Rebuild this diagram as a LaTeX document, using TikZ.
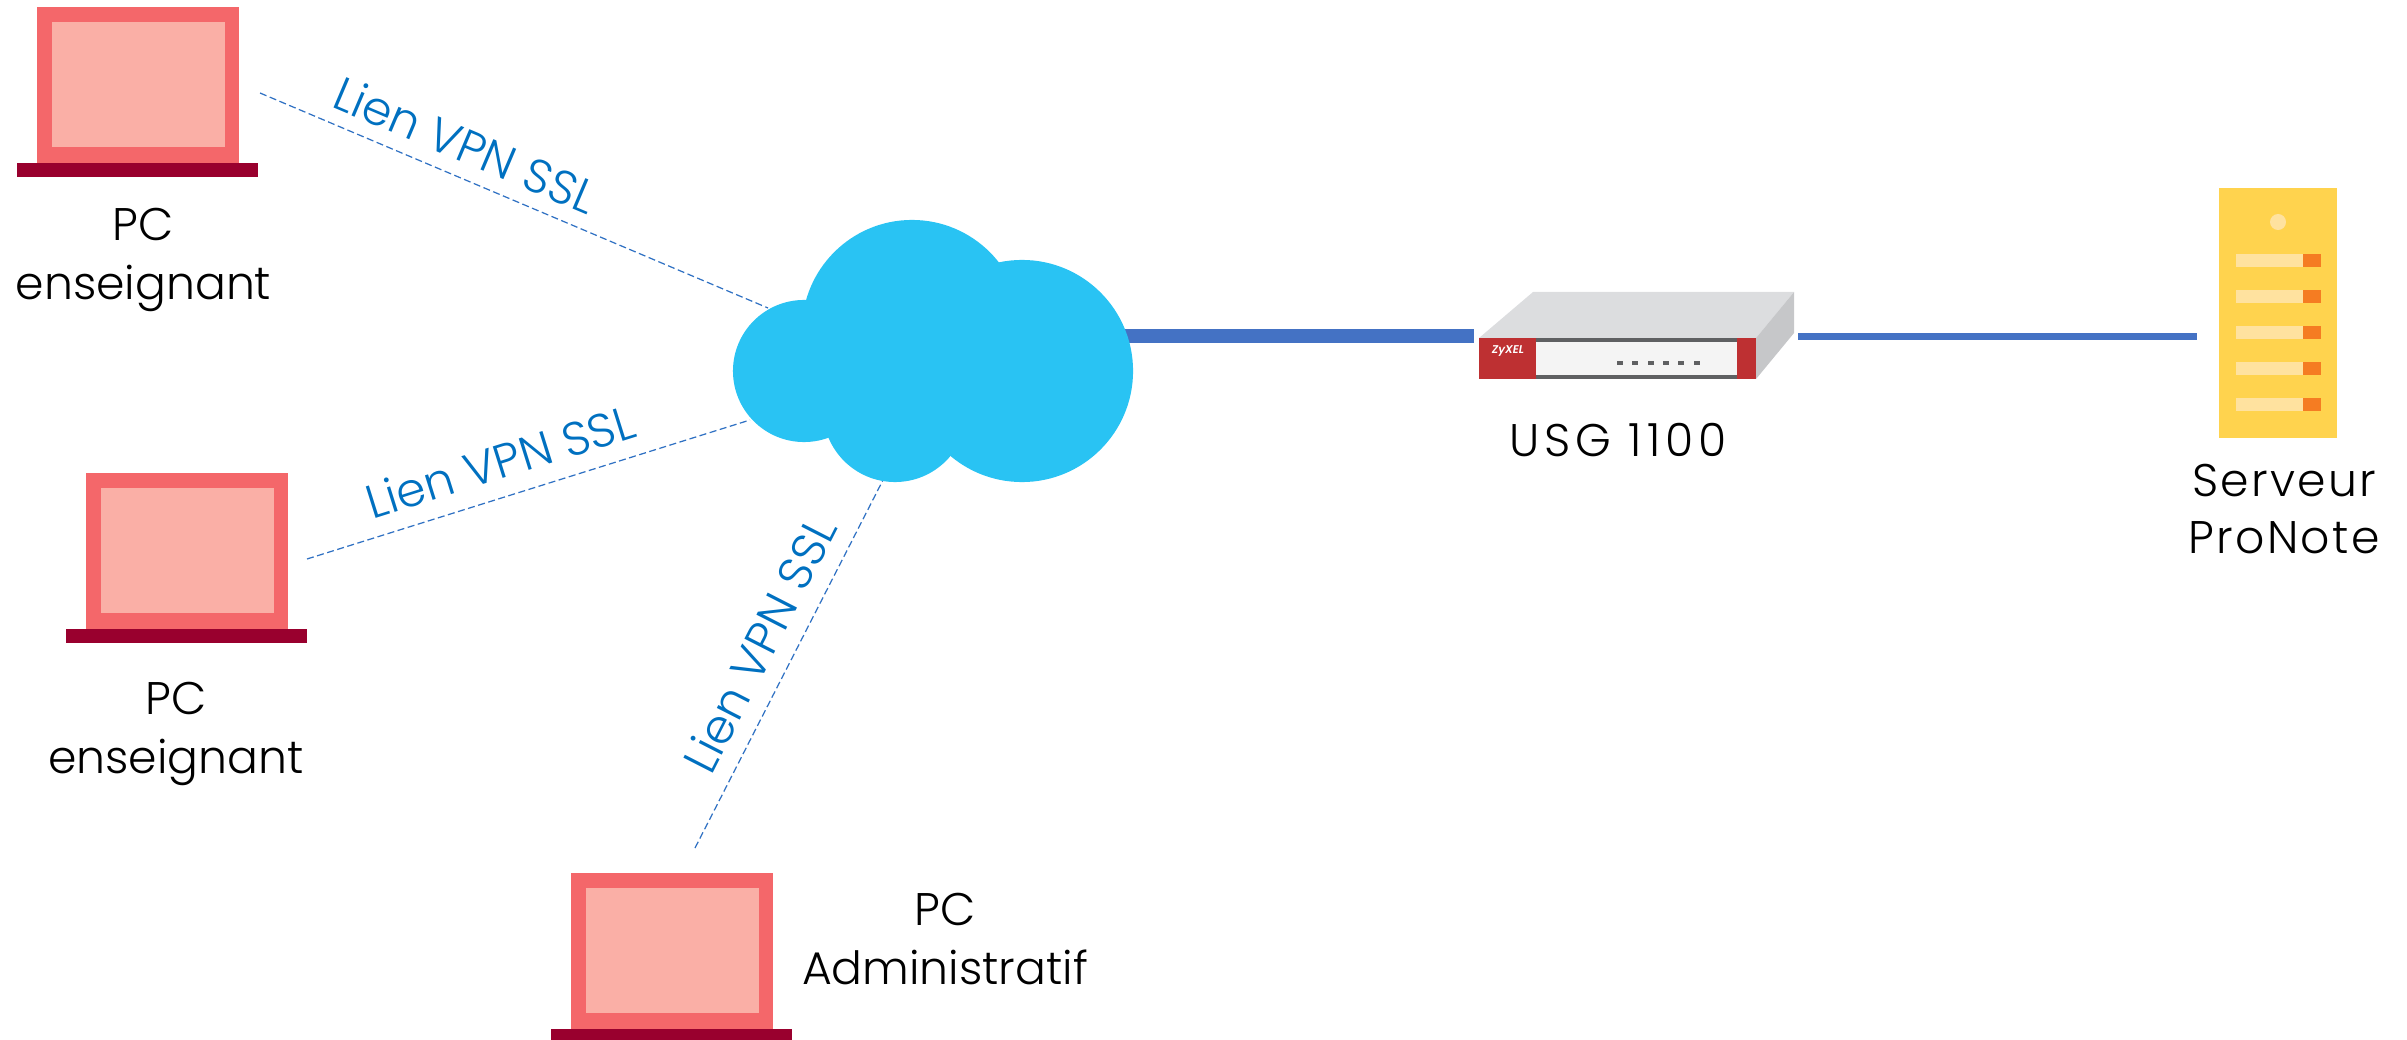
\documentclass[tikz,border=0pt]{standalone}
\usepackage{fontspec}
\setmainfont{Poppins Light}
\newfontfamily\widefont[LetterSpace=5]{Poppins Light}
\newfontfamily\widerfont[LetterSpace=11]{Poppins Light}
\definecolor{pcbody}{HTML}{F4676A}
\definecolor{pcscreen}{HTML}{FAAFA6}
\definecolor{pcbase}{HTML}{99002E}
\definecolor{cloudblue}{HTML}{29C3F3}
\definecolor{linkblue}{HTML}{4472C4}
\definecolor{vpnblue}{HTML}{0070C0}
\definecolor{srvyellow}{HTML}{FFD34E}
\definecolor{srvlight}{HTML}{FFE29F}
\definecolor{srvorange}{HTML}{F57C22}
\definecolor{fwtop}{HTML}{DCDDDF}
\definecolor{fwside}{HTML}{C6C7C9}
\definecolor{fwred}{HTML}{BE3032}
\definecolor{fwdark}{HTML}{5F6062}
\definecolor{fwfront}{HTML}{F4F4F4}
\tikzset{
  box/.style={inner sep=0pt,outer sep=0pt},
  label/.style={inner sep=0pt,align=center,font=\fontsize{13}{16.7}\selectfont},
  vpn/.style={dash pattern=on 2pt off 1pt,line width=0.35pt,linkblue!70!vpnblue},
  vpntext/.style={sloped,above,inner sep=0pt,text=vpnblue,font=\fontsize{13.4}{15}\selectfont},
  cloudpart/.style={circle,fill=cloudblue,inner sep=0pt,outer sep=0pt}
}
\begin{document}
\begin{tikzpicture}[x=0.01cm,y=-0.01cm]
  \clip (0,0) rectangle (2407,1040);
  % laptops
  \foreach \name/\dx/\dy in {pcA/0/0,pcB/49/466,pcC/534/866} {
    \node [box,fill=pcbody,minimum width=2.02cm,minimum height=1.56cm] (\name) at (138+\dx,85+\dy) {};
    \node [box,fill=pcscreen,minimum width=1.725cm,minimum height=1.25cm] (\name screen) at (138.2+\dx,84.5+\dy) {};
    \node [box,fill=pcbase,minimum width=2.41cm,minimum height=0.14cm] (\name base) at (137.5+\dx,170+\dy) {};
  }
  \node [label] (pcAtext) at (143.5,260) {PC\\enseignant};
  \node [label] (pcBtext) at (176,734) {PC\\enseignant};
  \node [label] (pcCtext) at (945,939) {PC\\Administratif};
  % wan links, under the cloud
  \coordinate (cloudout) at (1125,336);
  \coordinate (fwin) at (1474,336);
  \coordinate (fwout) at (1798,336.5);
  \coordinate (srvin) at (2197,336.5);
  \draw [linkblue,line width=0.14cm] (cloudout) -- (fwin);
  \draw [linkblue,line width=0.07cm] (fwout) -- (srvin);
  % vpn links
  \coordinate (vpnA) at (260,93);
  \coordinate (cloudA) at (768,308);
  \coordinate (vpnB) at (307,559);
  \coordinate (cloudB) at (750,420);
  \coordinate (vpnC) at (695,848);
  \coordinate (cloudC) at (883,480);
  \draw [vpn] (vpnA) -- node [vpntext,pos=.38,yshift=0.14cm] (lienA) {Lien VPN SSL} (cloudA);
  \draw [vpn] (vpnB) -- node [vpntext,pos=.46,yshift=0.17cm] (lienB) {Lien VPN SSL} (cloudB);
  \draw [vpn] (vpnC) -- node [vpntext,pos=.51,yshift=0.17cm] (lienC) {Lien VPN SSL} (cloudC);
  % cloud
  \node [cloudpart,minimum size=1.42cm] (cloudL) at (804,371) {};
  \node [cloudpart,minimum size=2.2cm] (cloudT) at (912,330) {};
  \node [cloudpart,minimum size=2.22cm] (cloudR) at (1022,371) {};
  \node [cloudpart,minimum size=1.44cm] (cloudD) at (895,410) {};
  % firewall
  \draw [fill=fwtop,draw=none] (1479,338)--(1533,292)--(1794,292)--(1756,338)--cycle;
  \draw [fill=fwside,draw=none] (1756,338)--(1794,292)--(1794,333)--(1756,379)--cycle;
  \node [box,fill=fwdark,minimum width=2.77cm,minimum height=0.41cm] (fw) at (1617.5,358.5) {};
  \node [box,fill=fwfront,minimum width=2.01cm,minimum height=0.33cm] (fwpanel) at (1636.5,358.5) {};
  \node [box,fill=fwred,minimum width=0.57cm,minimum height=0.41cm] (fwleft) at (1507.5,358.5) {};
  \node [box,fill=fwred,minimum width=0.19cm,minimum height=0.41cm] (fwright) at (1746.5,358.5) {};
  \foreach \i in {0,...,5}
    \fill [fwdark] (1617+15.3*\i,361) rectangle +(6,4);
  \node [box,text=white,font=\fontsize{3.2}{4}\selectfont\bfseries\itshape] (zyxel) at (1508,351) {ZyXEL};
  \node [label,font=\fontsize{13}{16.7}\widerfont] (fwtext) at (1618,440) {USG 1100};
  % server
  \node [box,fill=srvyellow,minimum width=1.18cm,minimum height=2.5cm] (srv) at (2278,313) {};
  \fill [srvlight] (2278,222) circle (8);
  \foreach \i in {0,...,4} {
    \fill [srvlight] (2236,254+36*\i) rectangle (2303,267+36*\i);
    \fill [srvorange] (2303,254+36*\i) rectangle (2321,267+36*\i);
  }
  \node [label,font=\fontsize{13}{16.2}\widefont] (srvtext) at (2284,509) {Serveur\\ProNote};
\end{tikzpicture}
\end{document}
